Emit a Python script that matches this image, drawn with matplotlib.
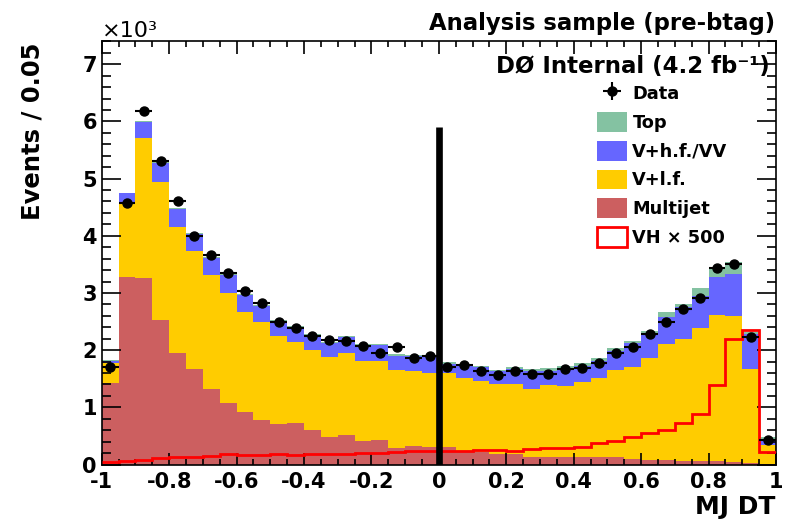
import numpy as np
import matplotlib
matplotlib.use("Agg")
from matplotlib import pyplot as plt
from matplotlib.patches import Patch
from matplotlib.ticker import MultipleLocator, FuncFormatter

# 40 bins of 0.05 between -1 and 1
bin_edges = np.linspace(-1.0, 1.0, 41)
bin_half = 0.025

data = [1713, 4569, 6177, 5303, 4603, 3992, 3666, 3351, 3030, 2820,
        2500, 2395, 2250, 2185, 2156, 2071, 1953, 2052, 1870, 1894,
        1713, 1748, 1643, 1568, 1632, 1585, 1585, 1672, 1696, 1771,
        1946, 2063, 2281, 2486, 2724, 2905, 3430, 3505, 2224, 437]

multijet = [1421, 3275, 3270, 2529, 1946, 1667, 1317, 1084, 927, 787,
            711, 722, 606, 490, 519, 408, 431, 292, 320, 303,
            303, 245, 215, 187, 187, 128, 128, 128, 128, 140,
            140, 99, 87, 82, 70, 70, 58, 41, 23, 10]

v_lf = [350, 1311, 2435, 2407, 2215, 2074, 1999, 1917, 1748, 1701,
        1532, 1416, 1399, 1386, 1439, 1398, 1387, 1363, 1323, 1293,
        1293, 1264, 1242, 1223, 1223, 1195, 1265, 1241, 1311, 1369,
        1515, 1614, 1778, 2028, 2119, 2311, 2556, 2555, 1647, 340]

v_hf_vv = [47, 157, 280, 332, 308, 292, 297, 315, 285, 286,
           274, 275, 262, 257, 268, 292, 274, 251, 250, 280,
           170, 236, 245, 222, 262, 309, 250, 321, 292, 309,
           338, 416, 416, 474, 559, 570, 669, 734, 620, 70]

top = [8, 12, 15, 15, 15, 15, 15, 15, 15, 15,
       15, 15, 15, 18, 18, 18, 18, 18, 18, 20,
       18, 20, 29, 28, 28, 40, 37, 40, 40, 41,
       47, 35, 55, 87, 65, 140, 175, 205, 32, 57]

vh_x500 = [41, 70, 87, 111, 128, 140, 151, 180, 175, 175,
           186, 175, 192, 180, 186, 198, 204, 221, 239, 233,
           245, 245, 250, 250, 233, 274, 291, 291, 315, 373,
           420, 477, 548, 606, 722, 886, 1399, 2189, 2351, 215]

cut_x = 0.0
cut_top = 5900

labels = ["Multijet", "V+l.f.", "V+h.f./VV", "Top"]
colors = ["#cc5f60", "#ffcc00", "#6666ff", "#84c2a2"]

plt.rcParams["font.family"] = "DejaVu Sans"
plt.rcParams["font.weight"] = "bold"
plt.rcParams["axes.unicode_minus"] = False

fig = plt.figure(figsize=(7.85, 5.21), dpi=100)
ax = fig.add_axes([0.1296, 0.1084, 0.859, 0.8134])

bottom = np.zeros(len(data))
for vals, col in zip([multijet, v_lf, v_hf_vv, top], colors):
   vals = np.array(vals, dtype=float)
   ax.stairs(bottom + vals, bin_edges, baseline=bottom, fill=True,
             color=col, lw=0.6, zorder=1)
   bottom = bottom + vals

ax.stairs(vh_x500, bin_edges, baseline=None, color="red", lw=2, zorder=3)
ax.vlines(cut_x, 0, cut_top, color="black", lw=4.8, zorder=4)

centers = 0.5 * (bin_edges[:-1] + bin_edges[1:])
err = ax.errorbar(centers, data, xerr=bin_half, yerr=np.sqrt(data), fmt="o",
                  color="black", ms=6.5, lw=1.5, capsize=0, zorder=5)

ax.set_xlim(-1, 1)
ax.set_ylim(0, 7410)

ax.xaxis.set_major_locator(MultipleLocator(0.2))
ax.xaxis.set_minor_locator(MultipleLocator(0.05))
ax.yaxis.set_major_locator(MultipleLocator(1000))
ax.yaxis.set_minor_locator(MultipleLocator(200))
ax.xaxis.set_major_formatter(FuncFormatter(lambda v, p: "%g" % round(v, 2)))
ax.yaxis.set_major_formatter(FuncFormatter(lambda v, p: "%g" % (v / 1000)))

ax.tick_params(axis="both", which="both", direction="in", top=True, right=True,
               width=1.2, labelsize=15)
ax.tick_params(axis="x", which="major", length=9, pad=5.5)
ax.tick_params(axis="x", which="minor", length=4.5)
ax.tick_params(axis="y", which="major", length=13.5, pad=3.5)
ax.tick_params(axis="y", which="minor", length=6.5)
for sp in ax.spines.values():
   sp.set_linewidth(1.2)

handles = [err,
           Patch(facecolor=colors[3]),
           Patch(facecolor=colors[2]),
           Patch(facecolor=colors[1]),
           Patch(facecolor=colors[0]),
           Patch(facecolor="white", edgecolor="red", lw=2)]
names = ["Data", "Top", "V+h.f./VV", "V+l.f.", "Multijet", "VH \u00d7 500"]
fig.legend(handles, names, loc="upper left", bbox_to_anchor=(597 / 785, 1 - 83 / 521),
           frameon=False, fontsize=12.8, borderpad=0, borderaxespad=0,
           handlelength=1.69, handleheight=1.35, labelspacing=0.5,
           handletextpad=0.3)

fig.text(775 / 785, 1 - 30 / 521, "Analysis sample (pre-btag)", ha="right",
         va="baseline", fontsize=16.4)
fig.text(770 / 785, 1 - 72.7 / 521, "D\u00d8 Internal (4.2 fb\u207b\u00b9)", ha="right",
         va="baseline", fontsize=16.5)
fig.text(101.7 / 785, 1 - 36.7 / 521, "\u00d710\u00b3", ha="left", va="baseline",
         fontsize=16, weight="normal")
fig.text(775 / 785, 1 - 514 / 521, "MJ DT", ha="right", va="baseline", fontsize=18)
fig.text(33 / 785, 1 - 43 / 521, "Events / 0.05", rotation=90, ha="center",
         va="top", fontsize=17.5)

fig.savefig("out.png", dpi=100)
